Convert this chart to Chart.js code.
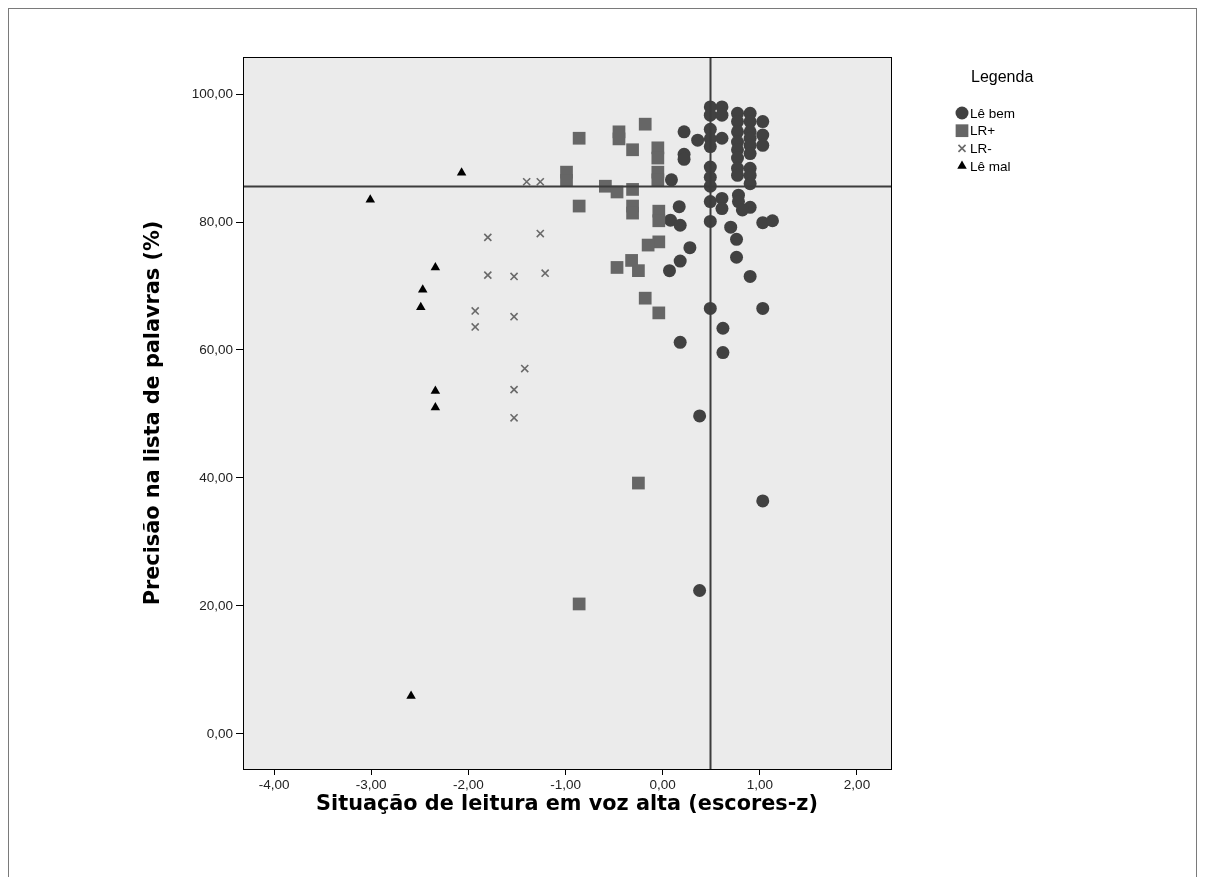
<!DOCTYPE html>
<html>
<head>
<meta charset="utf-8">
<script src="https://cdn.jsdelivr.net/npm/chart.js@4.4.0/dist/chart.umd.min.js"></script>
<style>
  html, body { margin: 0; padding: 0; background: #fff; }
  #wrap { width: 1205px; height: 877px; }
</style>
</head>
<body>
<div id="wrap"><canvas id="scatter" width="1205" height="877"></canvas></div>
<script>
(function() {
	"use strict";

	// groups, [z-score, % correct]
	var leBem = [
		[0.49, 98.0], [0.49, 96.7], [0.49, 94.5], [0.49, 93.0], [0.49, 91.8], [0.49, 88.6],
		[0.49, 87.0], [0.49, 85.6], [0.49, 83.2], [0.49, 80.1], [0.49, 66.5],
		[0.61, 98.0], [0.61, 96.7], [0.61, 93.1], [0.61, 83.7], [0.61, 82.1], [0.62, 63.4], [0.62, 59.6],
		[0.77, 97.0], [0.77, 95.7], [0.77, 94.1], [0.77, 92.5], [0.77, 91.3], [0.77, 90.0],
		[0.77, 88.4], [0.77, 87.3], [0.78, 84.2], [0.78, 83.2], [0.70, 79.2], [0.76, 77.3], [0.76, 74.5],
		[0.90, 97.0], [0.90, 95.7], [0.90, 94.1], [0.90, 93.1], [0.90, 92.0], [0.90, 90.7],
		[0.90, 88.4], [0.90, 87.3], [0.90, 86.0], [0.90, 82.3], [0.82, 81.9], [0.90, 71.5],
		[1.03, 95.7], [1.03, 93.6], [1.03, 92.0], [1.03, 79.9], [1.13, 80.2], [1.03, 66.5], [1.03, 36.4],
		[0.22, 94.1], [0.36, 92.8], [0.22, 90.6], [0.22, 89.8], [0.09, 86.6], [0.17, 82.4],
		[0.08, 80.3], [0.18, 79.5], [0.28, 76.0], [0.18, 73.9], [0.07, 72.4], [0.18, 61.2],
		[0.38, 49.7], [0.38, 22.4]
	];
	var lrMais = [
		[-0.86, 93.1], [-0.45, 94.1], [-0.45, 93.0], [-0.31, 91.3], [-0.18, 95.3],
		[-0.05, 91.6], [-0.05, 90.0], [-0.99, 87.8], [-0.99, 86.5], [-0.05, 87.8], [-0.05, 86.6],
		[-0.59, 85.6], [-0.47, 84.7], [-0.31, 85.1], [-0.86, 82.5], [-0.31, 82.5], [-0.31, 81.4],
		[-0.04, 81.7], [-0.04, 80.2], [-0.04, 76.9], [-0.15, 76.4], [-0.32, 74.0], [-0.47, 72.9],
		[-0.25, 72.4], [-0.18, 68.1], [-0.04, 65.8], [-0.25, 39.2], [-0.86, 20.3]
	];
	var lrMenos = [
		[-1.40, 86.3], [-1.26, 86.3], [-1.80, 77.6], [-1.26, 78.2], [-1.80, 71.7], [-1.53, 71.5],
		[-1.21, 72.0], [-1.93, 66.1], [-1.93, 63.6], [-1.53, 65.2], [-1.42, 57.1], [-1.53, 53.8],
		[-1.53, 49.4]
	];
	var leMal = [
		[-2.07, 87.7], [-3.01, 83.5], [-2.34, 72.9], [-2.47, 69.4], [-2.49, 66.7],
		[-2.34, 53.6], [-2.34, 51.0], [-2.59, 5.9]
	];

	var groupNames = ["Lê bem", "LR+", "LR-", "Lê mal"];
	var xTicks = [-4, -3, -2, -1, 0, 1, 2];
	var yTicks = [0, 20, 40, 60, 80, 100];
	var refX = 0.49;
	var refY = 85.7;

	var FONT = "'Liberation Sans', Arial, sans-serif";
	var TITLE_FONT = "'DejaVu Sans', Verdana, sans-serif";

	function toPoints(list) {
		return list.map(function(p) { return { x: p[0], y: p[1] }; });
	}

	function fmt(v) {
		return Number(v).toFixed(2).replace(".", ",");
	}

	var styles = [
		{ pointStyle: "circle", radius: 6.5, bg: "#414141", border: "#414141", bw: 0 },
		{ pointStyle: "rect", radius: 9, bg: "#666666", border: "#666666", bw: 0 },
		{ pointStyle: "crossRot", radius: 5, bg: "#6a6a6a", border: "#6a6a6a", bw: 1.6 },
		{ pointStyle: "triangle", radius: 5.5, bg: "#000000", border: "#000000", bw: 0 }
	];

	var groups = [leBem, lrMais, lrMenos, leMal];
	var datasets = groups.map(function(g, i) {
		var s = styles[i];
		return {
			label: groupNames[i],
			data: toPoints(g),
			pointStyle: s.pointStyle,
			pointRadius: s.radius,
			pointBackgroundColor: s.bg,
			pointBorderColor: s.border,
			pointBorderWidth: s.bw,
			showLine: false
		};
	});
	// draw the circles last so they sit on top like the original
	datasets.reverse();

	var plotBox = {
		id: "plotBox",
		beforeDraw: function(chart) {
			var ctx = chart.ctx, a = chart.chartArea;
			ctx.save();
			ctx.fillStyle = "#ffffff";
			ctx.fillRect(0, 0, chart.width, chart.height);
			ctx.strokeStyle = "#7a7a7a";
			ctx.lineWidth = 1;
			ctx.strokeRect(8.5, 8.5, 1188, 900);
			ctx.fillStyle = "#ebebeb";
			ctx.fillRect(a.left, a.top, a.right - a.left, a.bottom - a.top);
			ctx.restore();
		},
		afterDatasetsDraw: function(chart) {
			var ctx = chart.ctx, a = chart.chartArea;
			var px = Math.round(chart.scales.x.getPixelForValue(refX)) + 0.5;
			var py = Math.round(chart.scales.y.getPixelForValue(refY)) + 0.5;
			ctx.save();
			ctx.strokeStyle = "#3c3c3c";
			ctx.lineWidth = 2;
			ctx.beginPath();
			ctx.moveTo(px, a.top);
			ctx.lineTo(px, a.bottom);
			ctx.moveTo(a.left, py);
			ctx.lineTo(a.right, py);
			ctx.stroke();
			ctx.strokeStyle = "#000";
			ctx.lineWidth = 1;
			ctx.strokeRect(Math.round(a.left) + 0.5, Math.round(a.top) + 0.5,
				Math.round(a.right - a.left), Math.round(a.bottom - a.top));
			ctx.restore();
		},
		afterDraw: function(chart) {
			var ctx = chart.ctx;
			var lx = 962, ly = 113, step = 17.7;
			ctx.save();
			ctx.fillStyle = "#000";
			ctx.textBaseline = "middle";
			ctx.font = "16px " + FONT;
			ctx.fillText("Legenda", 971, 78);
			ctx.font = "13.5px " + FONT;
			for (var i = 0; i < groupNames.length; i++) {
				var s = styles[i];
				var y = ly + i * step;
				ctx.fillStyle = s.bg;
				ctx.strokeStyle = s.border;
				ctx.lineWidth = s.bw || 1;
				Chart.helpers.drawPoint(ctx, {
					pointStyle: s.pointStyle,
					radius: s.radius,
					borderWidth: s.bw
				}, lx, y);
				ctx.fillStyle = "#000";
				ctx.fillText(groupNames[i], 970, y + 1);
			}
			ctx.restore();
		}
	};

	var tickFont = { family: FONT, size: 13.5 };
	var titleFont = { family: TITLE_FONT, size: 20.8, weight: "bold" };

	document.addEventListener("DOMContentLoaded", function() {
		var ctx = document.getElementById("scatter").getContext("2d");

		new Chart(ctx, {
			type: "scatter",
			data: { datasets: datasets },
			options: {
				responsive: false,
				animation: false,
				layout: { padding: { left: 135, top: 57, right: 314, bottom: 57 } },
				plugins: {
					legend: { display: false },
					tooltip: { enabled: false }
				},
				scales: {
					x: {
						type: "linear",
						min: -4.32,
						max: 2.35,
						afterBuildTicks: function(scale) {
							scale.ticks = xTicks.map(function(v) { return { value: v }; });
						},
						afterFit: function(scale) { scale.height = 51; },
						ticks: {
							color: "#222",
							font: tickFont,
							padding: 2,
							maxRotation: 0,
							callback: function(v) { return fmt(v); }
						},
						grid: { drawOnChartArea: false, drawTicks: true, tickLength: 6, color: "#000" },
						border: { display: true, color: "#000", width: 1 },
						title: {
							display: true,
							text: "Situação de leitura em voz alta (escores-z)",
							color: "#000",
							font: titleFont,
							padding: { top: 0, bottom: 3 }
						}
					},
					y: {
						type: "linear",
						min: -5.5,
						max: 105.8,
						afterBuildTicks: function(scale) {
							scale.ticks = yTicks.map(function(v) { return { value: v }; });
						},
						afterFit: function(scale) { scale.width = 108; },
						ticks: {
							color: "#222",
							font: tickFont,
							padding: 3,
							callback: function(v) { return fmt(v); }
						},
						grid: { drawOnChartArea: false, drawTicks: true, tickLength: 7, color: "#000" },
						border: { display: true, color: "#000", width: 1 },
						title: {
							display: true,
							text: "Precisão na lista de palavras (%)",
							color: "#000",
							font: titleFont,
							padding: { top: 6, bottom: 0 }
						}
					}
				}
			},
			plugins: [plotBox]
		});
	});
}) ();
</script>
</body>
</html>
